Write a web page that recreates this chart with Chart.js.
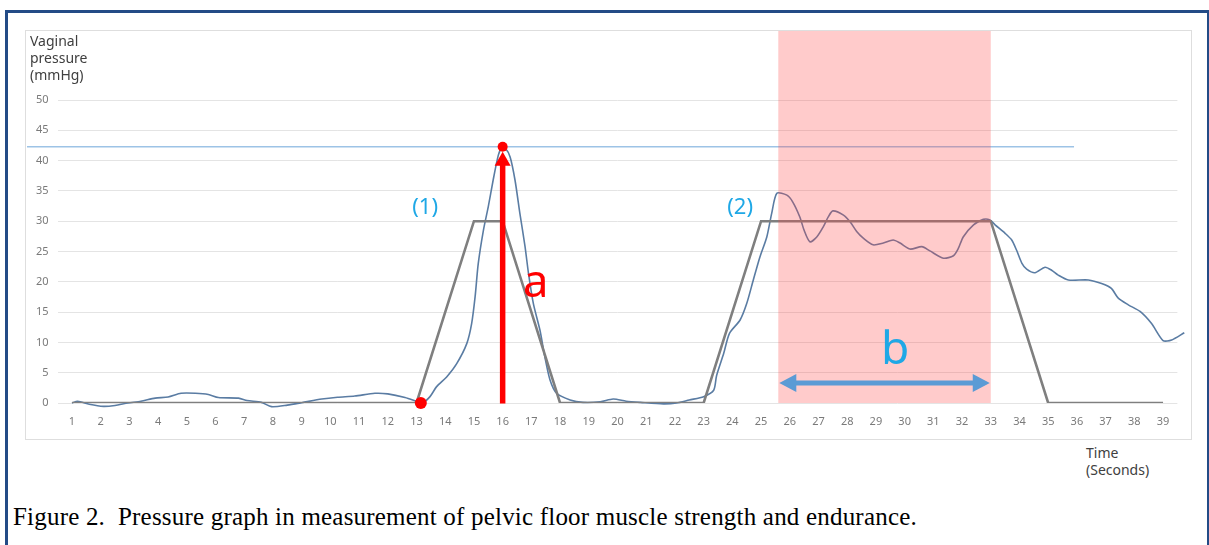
<!DOCTYPE html>
<html lang="en">
<head>
<meta charset="UTF-8">
<title>Pressure graph</title>
<script src="https://cdn.jsdelivr.net/npm/chart.js"></script>
<style>
  body { margin: 0; background: #fff; width: 1209px; height: 545px; overflow: hidden; position: relative; }
  #outer { position: absolute; left: 5px; top: 10px; width: 1199px; height: 560px;
           border: 3px solid #234b86; border-bottom: none; }
  #frame { position: absolute; left: 25px; top: 30px; width: 1165px; height: 408px; border: 1px solid #dedede; }
  #pressureChart { position: absolute; left: 0; top: 0; }
  .lbl { position: absolute; font-family: "Noto Sans", sans-serif; font-size: 14px; line-height: 17px; color: #404040; }
  #caption { position: absolute; left: 13px; top: 503px; font-family: "Liberation Serif", serif; font-size: 25px;
             letter-spacing: 0.2px; color: #000; white-space: pre; }
</style>
</head>
<body>
<div id="outer"></div>
<div id="frame"><canvas id="pressureChart" width="1165" height="408"></canvas></div>
<div class="lbl" style="left:30px; top:32px;">Vaginal<br>pressure<br>(mmHg)</div>
<div class="lbl" style="left:1086px; top:444px;">Time<br>(Seconds)</div>
<div id="caption">Figure 2.  Pressure graph in measurement of pelvic floor muscle strength and endurance.</div>

<script>
// measured pressure (blue curve)
const pressureTime = [1.0, 1.2, 1.6, 2.1, 2.5, 2.95, 3.4, 3.9, 4.35, 4.8, 5.3, 5.75, 6.1, 6.8, 7.1, 7.6, 7.95, 8.5, 9.0, 9.7,
  10.25, 10.85, 11.55, 12.0, 12.6, 13.05, 13.2, 13.47, 13.7, 14.05, 14.4, 14.75, 14.92, 15.04, 15.15, 15.33, 15.5, 15.67, 15.85, 15.97,
  16.1, 16.26, 16.43, 16.6, 16.78, 16.9, 17.07, 17.3, 17.47, 17.65, 17.88, 18.35, 18.8, 19.4, 19.85, 20.3, 20.8, 21.6, 22.06, 22.5,
  23.0, 23.35, 23.45, 23.7, 23.9, 24.27, 24.5, 24.73, 24.96, 25.2, 25.37, 25.55, 25.9, 26.1, 26.35, 26.5, 26.7, 26.94, 27.17, 27.34,
  27.5, 27.87, 28.1, 28.33, 28.56, 28.9, 29.26, 29.6, 29.84, 30.19, 30.6, 30.88, 31.35, 31.7, 31.87, 32.04, 32.4, 32.74, 32.97, 33.15,
  33.5, 33.73, 33.9, 34.08, 34.25, 34.54, 34.89, 35.12, 35.35, 35.7, 36.4, 36.86, 37.2, 37.44, 37.79, 38.2, 38.6, 39.0, 39.3, 39.74];
const pressureValue = [0.0, 0.3, -0.2, -0.55, -0.4, 0.0, 0.3, 0.8, 1.0, 1.6, 1.6, 1.4, 0.9, 0.8, 0.4, 0.1, -0.6, -0.35, 0.05, 0.65,
  0.95, 1.15, 1.6, 1.5, 0.9, 0.2, 0.0, 1.05, 2.7, 4.3, 6.5, 9.8, 13.1, 17.5, 23, 28.5, 32.4, 36.8, 40.9, 42.1,
  42.0, 40.6, 36.8, 31.3, 25.8, 21.4, 16.4, 12, 7.6, 3.8, 1.6, 0.5, 0.1, 0.2, 0.65, 0.3, 0.1, -0.15, 0, 0.5,
  1.05, 2.1, 4.5, 8.2, 11.5, 13.7, 16.4, 20.3, 24.1, 27.4, 31.3, 34.6, 34.3, 33.2, 30.7, 28.5, 26.6, 27.4, 29.1, 30.7,
  31.7, 31.0, 29.9, 28.3, 27.2, 26.1, 26.4, 26.9, 26.4, 25.4, 25.8, 25.1, 23.9, 24.3, 25.5, 27.4, 29.4, 30.3, 30.2, 29.4,
  28, 26.9, 25.2, 23.1, 22.1, 21.5, 22.4, 21.9, 21.1, 20.3, 20.3, 19.7, 18.9, 17.3, 16.2, 15.1, 13.1, 10.3, 10.4, 11.6];

// target contraction profile (gray trapezoids)
const targetTime = [1, 13, 15, 16, 18, 23, 25, 33, 35, 39];
const targetValue = [0, 0, 30, 30, 0, 0, 30, 30, 0, 0];

const xTicks = [1,2,3,4,5,6,7,8,9,10,11,12,13,14,15,16,17,18,19,20,21,22,23,24,25,26,27,28,29,30,31,32,33,34,35,36,37,38,39];
const yTicks = [0, 5, 10, 15, 20, 25, 30, 35, 40, 45, 50];

// annotations
const maxPressure = 42.3;      // peak of contraction (1)
const maxLineEnd = 35.9;
const onsetTime = 13.15;
const peakTime = 16;
const enduranceStart = 25.6;
const enduranceEnd = 33.0;
const arrowLevel = 3.3;

const toPoints = (xs, ys) => xs.map((x, i) => ({ x: x, y: ys[i] }));

function arrowHead(c, x, y, dx, dy, len, half) {
  // tip at (x,y), pointing along (dx,dy)
  const px = -dy, py = dx;
  c.beginPath();
  c.moveTo(x, y);
  c.lineTo(x - dx * len + px * half, y - dy * len + py * half);
  c.lineTo(x - dx * len - px * half, y - dy * len - py * half);
  c.closePath();
  c.fill();
}

const annotate = {
  id: 'annotate',
  afterDatasetsDraw(chart) {
    const c = chart.ctx, xs = chart.scales.x, ys = chart.scales.y;
    const X = v => xs.getPixelForValue(v), Y = v => ys.getPixelForValue(v);
    c.save();

    // max pressure line
    c.strokeStyle = '#9dc3e6';
    c.lineWidth = 1.5;
    c.beginPath();
    c.moveTo(1, Y(maxPressure));
    c.lineTo(X(maxLineEnd), Y(maxPressure));
    c.stroke();

    // endurance zone
    c.fillStyle = 'rgba(255, 70, 70, 0.28)';
    c.fillRect(X(enduranceStart), 0, X(enduranceEnd) - X(enduranceStart), Y(0));

    // red arrow "a"
    c.strokeStyle = '#ff0000';
    c.fillStyle = '#ff0000';
    c.lineWidth = 5.5;
    c.beginPath();
    c.moveTo(X(peakTime), Y(0) + 0.5);
    c.lineTo(X(peakTime), Y(maxPressure) + 16);
    c.stroke();
    arrowHead(c, X(peakTime), Y(maxPressure) + 5, 0, -1, 14, 8);
    c.beginPath(); c.arc(X(peakTime), Y(maxPressure), 5, 0, Math.PI * 2); c.fill();
    c.beginPath(); c.arc(X(onsetTime), Y(0), 6, 0, Math.PI * 2); c.fill();

    // double arrow "b"
    c.strokeStyle = '#5b9bd5';
    c.fillStyle = '#5b9bd5';
    c.lineWidth = 5;
    const ya = Y(arrowLevel);
    c.beginPath();
    c.moveTo(X(enduranceStart) + 10, ya);
    c.lineTo(X(enduranceEnd) - 10, ya);
    c.stroke();
    arrowHead(c, X(enduranceStart) + 1, ya, -1, 0, 17, 9);
    arrowHead(c, X(enduranceEnd) - 1, ya, 1, 0, 17, 9);

    // labels
    c.textAlign = 'center';
    c.textBaseline = 'middle';
    c.font = '22px "Noto Sans", sans-serif';
    c.fillStyle = '#1fa8e6';
    c.fillText('(1)', X(13.3), Y(32.3));
    c.fillText('(2)', X(24.27), Y(32.3));
    c.font = '46px "Noto Sans", sans-serif';
    c.fillStyle = '#ff0000';
    c.fillText('a', X(17.15), Y(19.6));
    c.fillStyle = '#1fa8e6';
    c.fillText('b', X(29.67), Y(8.6));
    c.restore();
  }
};

const ctx = document.getElementById('pressureChart').getContext('2d');
new Chart(ctx, {
  type: 'scatter',
  data: {
    datasets: [
      {
        label: 'Target',
        data: toPoints(targetTime, targetValue),
        showLine: true,
        borderColor: '#7f7f7f',
        borderWidth: 2.6,
        pointRadius: 0,
        tension: 0
      },
      {
        label: 'Vaginal pressure',
        data: toPoints(pressureTime, pressureValue),
        showLine: true,
        borderColor: '#5a7ca3',
        borderWidth: 1.6,
        pointRadius: 0,
        tension: 0.25,
        clip: false
      }
    ]
  },
  options: {
    responsive: false,
    animation: false,
    layout: { padding: { left: 0, right: 13.6, top: 69, bottom: 0 } },
    plugins: { legend: { display: false }, tooltip: { enabled: false } },
    scales: {
      x: {
        type: 'linear',
        min: 0.5,
        max: 39.5,
        afterBuildTicks: s => { s.ticks = xTicks.map(v => ({ value: v })); },
        afterFit: s => { s.height = 36; },
        grid: { display: false, drawTicks: false },
        border: { display: false },
        ticks: { padding: 12, maxRotation: 0, autoSkip: false, color: '#7a7a7a',
                 font: { family: 'Noto Sans', size: 11 } }
      },
      y: {
        min: 0,
        max: 50,
        afterBuildTicks: s => { s.ticks = yTicks.map(v => ({ value: v })); },
        afterFit: s => { s.width = 31.6; },
        grid: { color: '#e4e4e4', lineWidth: 1, drawTicks: false },
        border: { display: false },
        ticks: { padding: 9, color: '#7a7a7a', font: { family: 'Noto Sans', size: 11 } }
      }
    }
  },
  plugins: [annotate]
});
</script>
</body>
</html>
